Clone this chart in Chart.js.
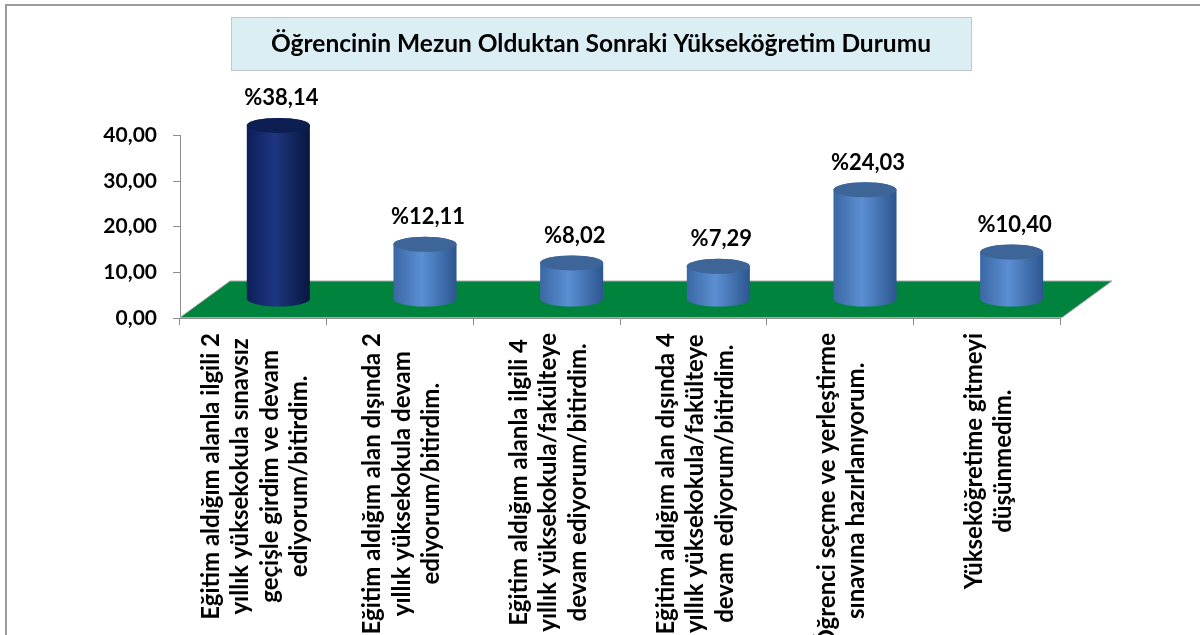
<!DOCTYPE html>
<html lang="tr">
<head>
<meta charset="utf-8" />
<title>Öğrencinin Mezun Olduktan Sonraki Yükseköğretim Durumu</title>
<script src="https://cdn.jsdelivr.net/npm/chart.js@4.4.0/dist/chart.umd.min.js"></script>
<style>
    html, body { margin: 0; padding: 0; background: #fff; }
    #wrap { width: 1200px; height: 635px; }
</style>
</head>
<body>
<div id="wrap"><canvas id="chart" width="1200" height="635"></canvas></div>
<script>
    // Veriler
    const chartTitle = 'Öğrencinin Mezun Olduktan Sonraki Yükseköğretim Durumu';
    const categories = [
        ['Eğitim aldığım alanla ilgili 2', 'yıllık yüksekokula sınavsız', 'geçişle girdim ve devam', 'ediyorum/bitirdim.'],
        ['Eğitim aldığım alan dışında 2', 'yıllık yüksekokula devam', 'ediyorum/bitirdim.'],
        ['Eğitim aldığım alanla ilgili 4', 'yıllık yüksekokula/fakülteye', 'devam ediyorum/bitirdim.'],
        ['Eğitim aldığım alan dışında 4', 'yıllık yüksekokula/fakülteye', 'devam ediyorum/bitirdim.'],
        ['Öğrenci seçme ve yerleştirme', 'sınavına hazırlanıyorum.'],
        ['Yükseköğretime gitmeyi', 'düşünmedim.']
    ];
    const percentages = [38.14, 12.11, 8.02, 7.29, 24.03, 10.40];
    const yTicks = [0, 10, 20, 30, 40];

    // Silindir renkleri (ilk çubuk lacivert, diğerleri mavi)
    const navy = { edge: '#0c1f5a', light: '#1d3680', dark: '#08173f', top: '#0d1f52' };
    const blue = { edge: '#3b67a5', light: '#5b8fd2', dark: '#2c5690', top: '#3d6598' };
    const cylinderShades = [navy, blue, blue, blue, blue, blue];

    const FONT = 'Lato';
    const TITLE_SIZE = 24.5;
    const DEPTH_X = 50, DEPTH_Y = 37;
    const fmt = v => v.toFixed(2).replace('.', ',');

    const scene3d = {
        id: 'scene3d',
        beforeDraw(chart) {
            const ctx = chart.ctx;
            ctx.save();
            ctx.fillStyle = '#fff';
            ctx.fillRect(0, 0, chart.width, chart.height);
            // dış çerçeve
            ctx.strokeStyle = '#9c9c9c';
            ctx.lineWidth = 2;
            ctx.strokeRect(6, 5, chart.width + 10, chart.height + 10);
            // başlık kutusu
            const tb = chart.titleBlock;
            ctx.font = 'bold ' + TITLE_SIZE + 'px ' + FONT;
            const tw = ctx.measureText(chartTitle).width;
            const cx = (tb.left + tb.right) / 2;
            ctx.fillStyle = '#dbeef4';
            ctx.fillRect(cx - tw / 2 - 40, 17, tw + 80, 53);
            ctx.strokeStyle = '#bfc8cc';
            ctx.lineWidth = 1;
            ctx.strokeRect(Math.round(cx - tw / 2 - 40) + 0.5, 17.5, Math.round(tw + 80), 53);
            ctx.restore();
        },
        beforeDatasetsDraw(chart) {
            // yeşil zemin
            const ctx = chart.ctx;
            const { left, right, bottom } = chart.chartArea;
            ctx.save();
            ctx.beginPath();
            ctx.moveTo(left, bottom - 0.5);
            ctx.lineTo(right + 2, bottom - 0.5);
            ctx.lineTo(right + 2 + DEPTH_X, bottom - DEPTH_Y);
            ctx.lineTo(left + DEPTH_X, bottom - DEPTH_Y);
            ctx.closePath();
            ctx.fillStyle = '#00843d';
            ctx.fill();
            ctx.strokeStyle = '#a9a9a9';
            ctx.lineWidth = 1;
            ctx.stroke();
            ctx.restore();
        },
        afterDatasetsDraw(chart) {
            const ctx = chart.ctx;
            const meta = chart.getDatasetMeta(0);
            const values = chart.data.datasets[0].data;
            ctx.save();
            meta.data.forEach((bar, i) => {
                const rx = bar.width / 2, ry = 7.5;
                const cx = bar.x + DEPTH_X / 2;
                const top = bar.y - DEPTH_Y / 2;
                const base = bar.base - DEPTH_Y / 2;
                const s = cylinderShades[i];
                const g = ctx.createLinearGradient(cx - rx, 0, cx + rx, 0);
                g.addColorStop(0, s.edge);
                g.addColorStop(0.45, s.light);
                g.addColorStop(1, s.dark);
                ctx.beginPath();
                ctx.moveTo(cx - rx, top);
                ctx.lineTo(cx - rx, base);
                ctx.ellipse(cx, base, rx, ry, 0, Math.PI, 0, true);
                ctx.lineTo(cx + rx, top);
                ctx.ellipse(cx, top, rx, ry, 0, 0, Math.PI, true);
                ctx.closePath();
                ctx.fillStyle = g;
                ctx.fill();
                ctx.beginPath();
                ctx.ellipse(cx, top, rx, ry, 0, 0, Math.PI * 2);
                ctx.fillStyle = s.top;
                ctx.fill();

                ctx.fillStyle = '#000';
                ctx.font = 'bold 22px ' + FONT;
                ctx.textAlign = 'center';
                ctx.textBaseline = 'middle';
                ctx.fillText('%' + fmt(values[i]), cx + 3, top - 27);
            });
            ctx.restore();
        },
        afterDraw(chart) {
            // döndürülmüş kategori etiketleri
            const ctx = chart.ctx;
            const xs = chart.scales.x;
            ctx.save();
            ctx.fillStyle = '#000';
            ctx.font = 'bold 24px ' + FONT;
            ctx.textAlign = 'center';
            ctx.textBaseline = 'middle';
            categories.forEach((lines, i) => {
                const px = xs.getPixelForValue(i) + 2;
                const w = Math.max(...lines.map(l => ctx.measureText(l).width));
                const midY = chart.chartArea.bottom + 15 + w / 2;
                lines.forEach((line, j) => {
                    ctx.save();
                    ctx.translate(px + (j - (lines.length - 1) / 2) * 29.5, midY);
                    ctx.rotate(-Math.PI / 2);
                    ctx.fillText(line, 0, 0);
                    ctx.restore();
                });
            });
            ctx.restore();
        }
    };

    function drawChart() {
        const ctx = document.getElementById('chart').getContext('2d');
        new Chart(ctx, {
            type: 'bar',
            data: {
                labels: categories,
                datasets: [{
                    data: percentages,
                    backgroundColor: 'rgba(0,0,0,0)',
                    categoryPercentage: 0.86,
                    barPercentage: 0.5
                }]
            },
            options: {
                responsive: false,
                animation: false,
                devicePixelRatio: 1,
                layout: { padding: { left: 60, right: 58, top: 0, bottom: 0 } },
                plugins: {
                    legend: { display: false },
                    tooltip: { enabled: false },
                    title: {
                        display: true,
                        text: chartTitle,
                        color: '#000',
                        font: { family: FONT, size: TITLE_SIZE, weight: 'bold' },
                        padding: { top: 29, bottom: 77 }
                    }
                },
                scales: {
                    x: {
                        grid: { drawOnChartArea: false, offset: true, color: '#8c8c8c', tickLength: 7 },
                        border: { color: '#8c8c8c' },
                        ticks: { display: false },
                        afterFit: s => { s.height = 317; }
                    },
                    y: {
                        min: 0,
                        max: 40,
                        afterBuildTicks: s => { s.ticks = yTicks.map(v => ({ value: v })); },
                        ticks: {
                            callback: v => fmt(v),
                            color: '#000',
                            padding: 16,
                            font: { family: FONT, size: 21, weight: 'bold' }
                        },
                        grid: { drawOnChartArea: false, color: '#8c8c8c', tickLength: 7 },
                        border: { color: '#8c8c8c' },
                        afterFit: s => { s.width = 120; }
                    },
                    // boş sağ eksen: çizim alanını başlık ortalanmış kalacak şekilde daraltır
                    yPad: {
                        position: 'right',
                        grid: { display: false },
                        border: { display: false },
                        ticks: { display: false },
                        afterFit: s => { s.width = 82; }
                    }
                }
            },
            plugins: [scene3d]
        });
    }

    document.fonts.load('bold 21px ' + FONT).then(drawChart, drawChart);
</script>
</body>
</html>
